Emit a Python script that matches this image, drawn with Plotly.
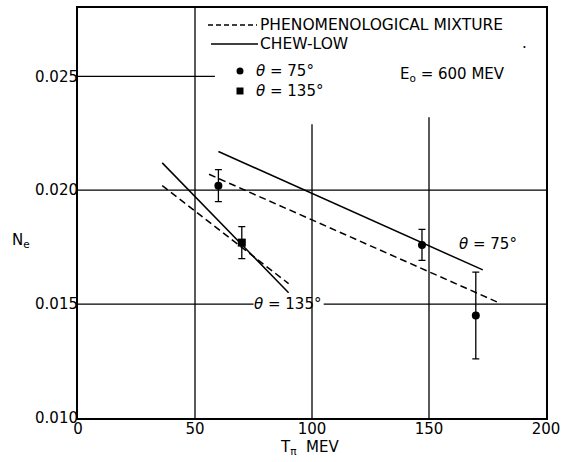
import plotly.graph_objects as go

# ---- data ----
x_ticks = [0, 50, 100, 150, 200]
y_ticks = [0.010, 0.015, 0.020, 0.025]

# Phenomenological mixture (dashed)
pm75_x = [56, 179]
pm75_y = [0.0207, 0.0151]
pm135_x = [36, 90]
pm135_y = [0.0202, 0.0159]

# Chew-Low (solid)
cl75_x = [60, 173]
cl75_y = [0.0217, 0.0165]
cl135_x = [36, 90]
cl135_y = [0.0212, 0.0155]

# measured points
obs75_x = [60, 147, 170]
obs75_y = [0.0202, 0.0176, 0.0145]
obs75_err = [0.0007, 0.00068, 0.0019]
obs135_x = [70]
obs135_y = [0.0177]
obs135_err = [0.0007]

# partial grid lines (value, extent)
grid_h = [(0.025, [(0, 58.5)]), (0.020, [(0, 200)]), (0.015, [(0, 75), (105, 200)])]
grid_v = [(50, 0.010, 0.028), (100, 0.010, 0.0229), (150, 0.010, 0.0232)]

FONT = "DejaVu Sans"
DASH = "7px,4px"
LW = 1.5
W, H = 562, 462
ML, MR, MT, MB = 78, 16, 8, 44


def px(xp):
    return (xp - ML) / (W - ML - MR)


def py(yp):
    return 1 - (yp - MT) / (H - MT - MB)


fig = go.Figure()

fig.add_trace(go.Scatter(x=pm75_x, y=pm75_y, mode="lines",
                         line=dict(color="black", width=LW, dash=DASH),
                         name="PHENOMENOLOGICAL MIXTURE"))
fig.add_trace(go.Scatter(x=pm135_x, y=pm135_y, mode="lines",
                         line=dict(color="black", width=LW, dash=DASH)))
fig.add_trace(go.Scatter(x=cl75_x, y=cl75_y, mode="lines",
                         line=dict(color="black", width=LW), name="CHEW-LOW"))
fig.add_trace(go.Scatter(x=cl135_x, y=cl135_y, mode="lines",
                         line=dict(color="black", width=LW)))
fig.add_trace(go.Scatter(x=obs75_x, y=obs75_y, mode="markers",
                         marker=dict(symbol="circle", size=8, color="black"),
                         error_y=dict(type="data", array=obs75_err, visible=True,
                                      color="black", thickness=1.3, width=3.5),
                         name="θ = 75°"))
fig.add_trace(go.Scatter(x=obs135_x, y=obs135_y, mode="markers",
                         marker=dict(symbol="square", size=8, color="black"),
                         error_y=dict(type="data", array=obs135_err, visible=True,
                                      color="black", thickness=1.3, width=3.5),
                         name="θ = 135°"))

shapes = []
for yv, segs in grid_h:
    for x0, x1 in segs:
        shapes.append(dict(type="line", xref="x", yref="y", x0=x0, x1=x1, y0=yv, y1=yv,
                           line=dict(color="black", width=1.3), layer="below"))
for xv, y0, y1 in grid_v:
    shapes.append(dict(type="line", xref="x", yref="y", x0=xv, x1=xv, y0=y0, y1=y1,
                       line=dict(color="black", width=1.3), layer="below"))

# hand-drawn style legend keys
shapes.append(dict(type="line", xref="paper", yref="paper", x0=px(208), x1=px(257),
                   y0=py(25), y1=py(25), line=dict(color="black", width=LW, dash="5px,3px")))
shapes.append(dict(type="line", xref="paper", yref="paper", x0=px(211), x1=px(258),
                   y0=py(44), y1=py(44), line=dict(color="black", width=LW)))
shapes.append(dict(type="circle", xref="paper", yref="paper", xsizemode="pixel",
                   ysizemode="pixel", xanchor=px(240), yanchor=py(71),
                   x0=-3.5, x1=3.5, y0=-3.5, y1=3.5,
                   fillcolor="black", line=dict(color="black", width=0)))
shapes.append(dict(type="rect", xref="paper", yref="paper", xsizemode="pixel",
                   ysizemode="pixel", xanchor=px(240), yanchor=py(91),
                   x0=-3.5, x1=3.5, y0=-3.5, y1=3.5,
                   fillcolor="black", line=dict(color="black", width=0)))

tf = dict(family=FONT, size=15, color="black")
lf = dict(family=FONT, size=15.5, color="black")


def note(x, y, text, xanchor="center", xref="paper", yref="paper", font=tf):
    return dict(x=x, y=y, xref=xref, yref=yref, xanchor=xanchor, yanchor="middle",
                text=text, showarrow=False, font=font)


annotations = [
    note(px(258), py(25), "PHENOMENOLOGICAL MIXTURE", "left", font=lf),
    note(px(258), py(44), "CHEW-LOW", "left", font=lf),
    note(px(254), py(71), "<i>θ</i> = 75°", "left"),
    note(px(254), py(91), "<i>θ</i> = 135°", "left"),
    note(175, 0.01766, "<i>θ</i> = 75°", xref="x", yref="y"),
    note(89.5, 0.015, "<i>θ</i> = 135°", xref="x", yref="y"),
    note(px(398), py(74), "E<sub>o</sub> = 600 MEV", "left"),
    note(px(524), py(43), "."),
    note(px(21), py(241), "N<sub>e</sub>"),
    note(px(309), py(447), "T<sub>π</sub>  MEV"),
]

fig.update_layout(
    width=W, height=H,
    margin=dict(l=ML, r=MR, t=MT, b=MB, autoexpand=False),
    paper_bgcolor="white", plot_bgcolor="white",
    font=tf, shapes=shapes, annotations=annotations,
    showlegend=False,
)
fig.update_xaxes(range=[0, 200], tickvals=x_ticks, ticktext=[str(v) for v in x_ticks],
                 showgrid=False, zeroline=False, showline=True, linecolor="black",
                 linewidth=2, mirror=True, ticks="", automargin=False,
                 ticklabelstandoff=-4)
fig.update_yaxes(range=[0.010, 0.028], tickvals=y_ticks,
                 ticktext=[f"{v:.3f}" for v in y_ticks],
                 showgrid=False, zeroline=False, showline=True, linecolor="black",
                 linewidth=2, mirror=True, ticks="", automargin=False,
                 ticklabelstandoff=-5)

fig.write_html("out.html", config={"displayModeBar": False},
               post_script="document.body.style.margin='0px';document.body.style.overflow='hidden';")
